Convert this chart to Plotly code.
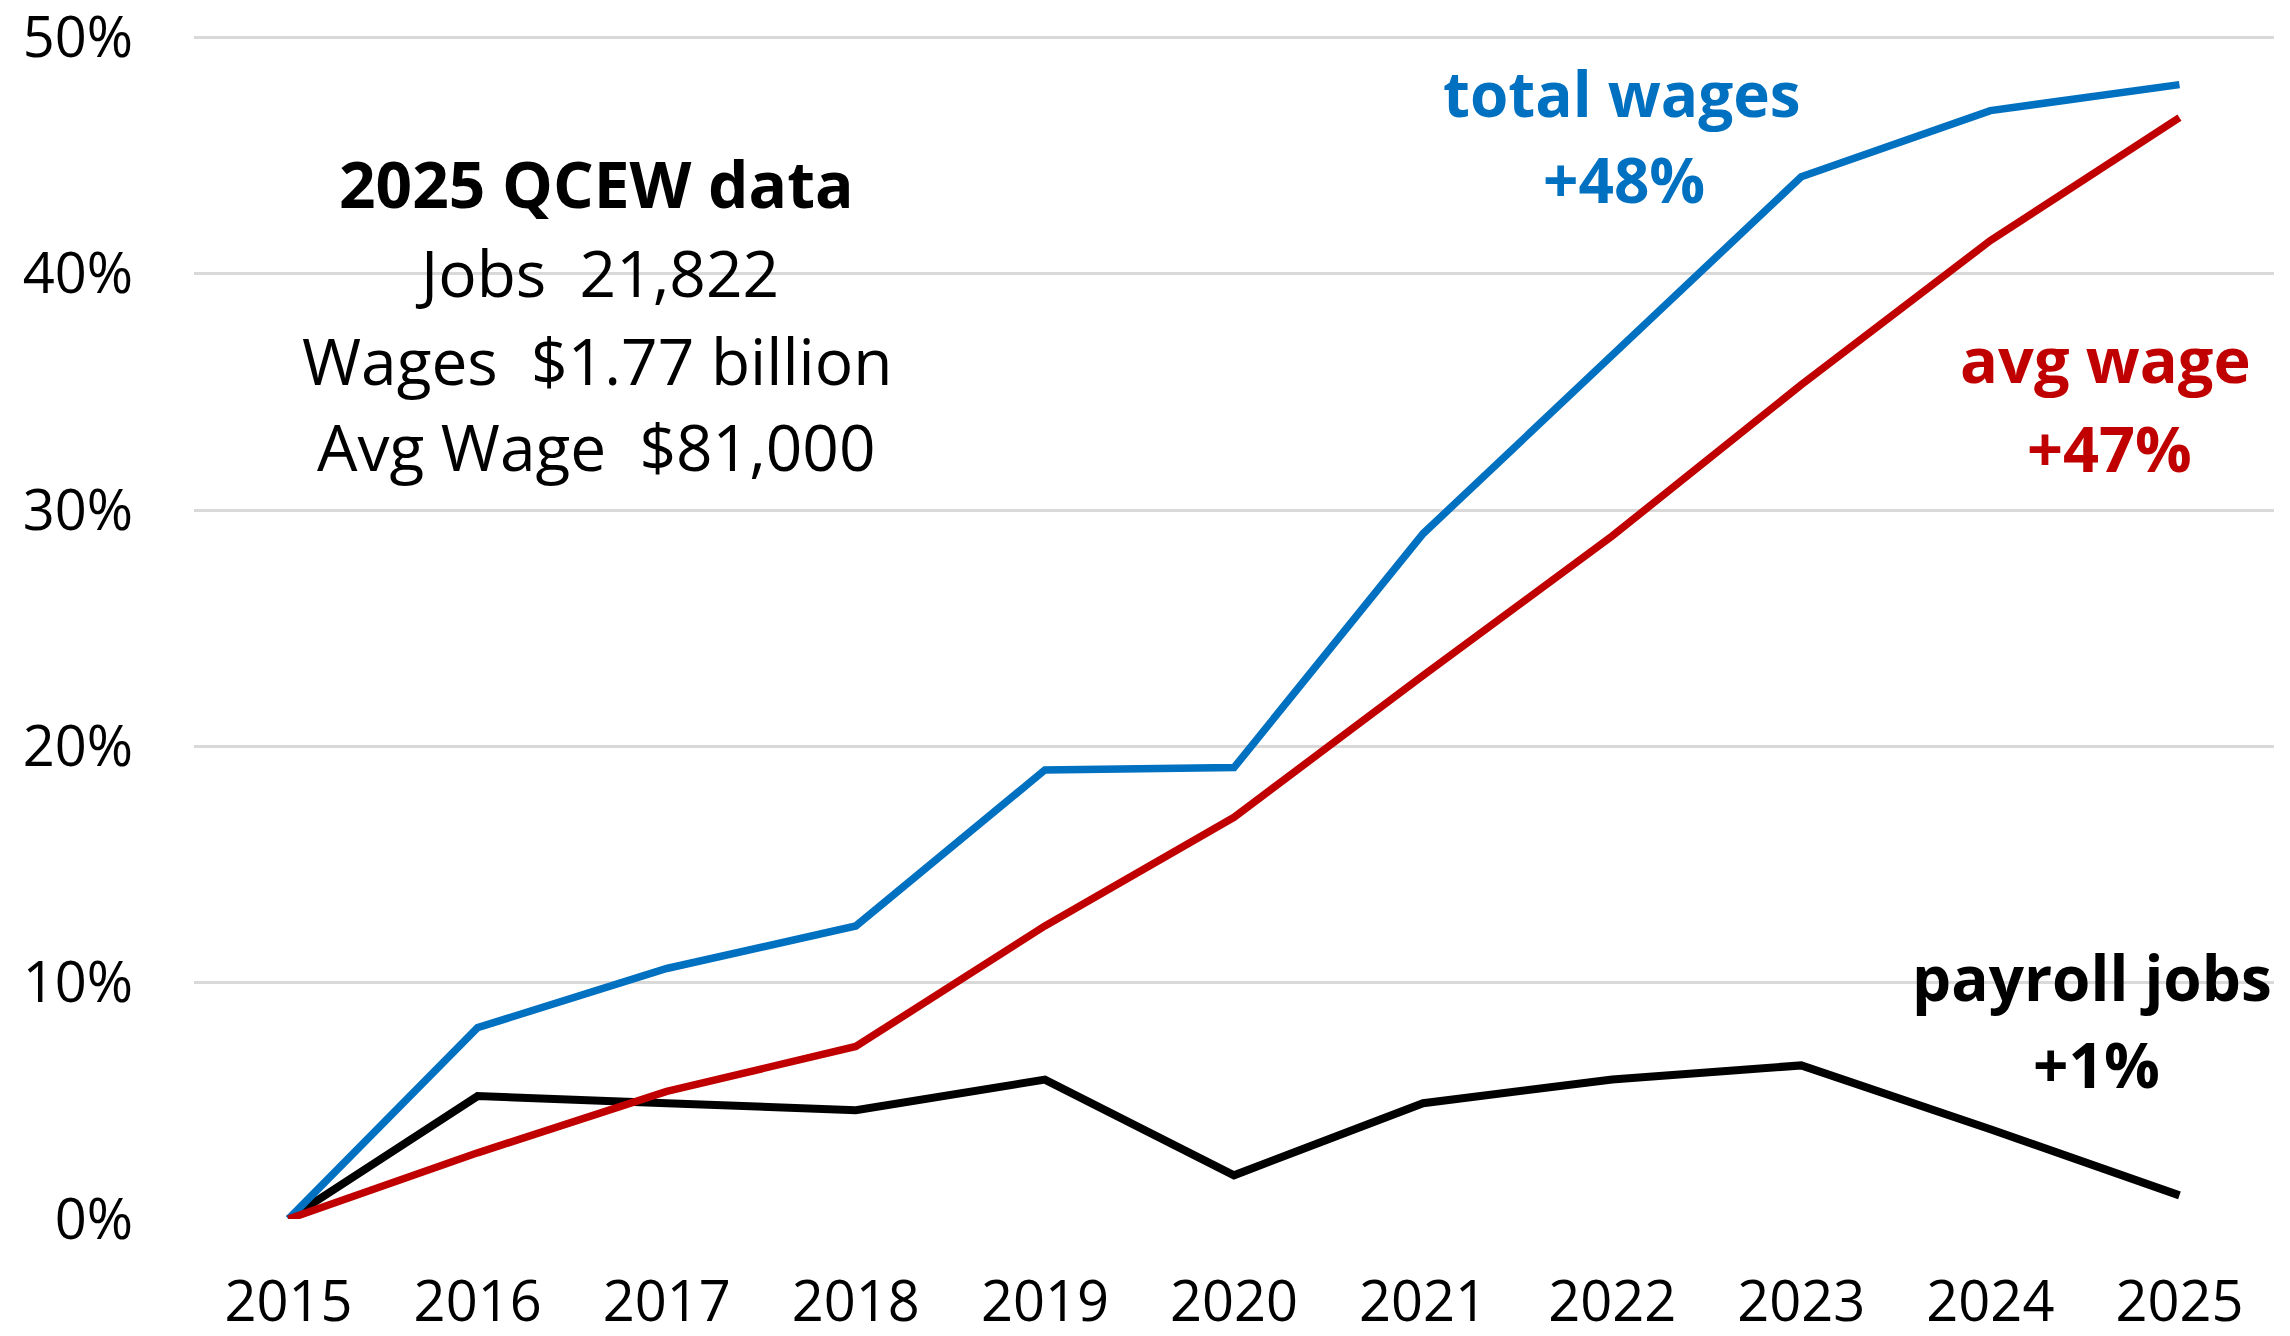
import plotly.graph_objects as go

years = [2015, 2016, 2017, 2018, 2019, 2020, 2021, 2022, 2023, 2024, 2025]
total_wages = [0, 8.1, 10.6, 12.4, 19.0, 19.1, 29.0, 36.6, 44.1, 46.9, 48.0]
avg_wage = [0, 2.8, 5.4, 7.3, 12.4, 17.0, 23.0, 28.9, 35.3, 41.4, 46.6]
payroll_jobs = [0, 5.2, 4.9, 4.6, 5.9, 1.85, 4.9, 5.9, 6.5, 3.8, 1.0]
y_ticks = [0, 10, 20, 30, 40, 50]
y_tick_labels = ["0%", "10%", "20%", "30%", "40%", "50%"]

BLUE = "#0070C0"
RED = "#C00000"
BLACK = "#000000"
FONT = "Open Sans"

fig = go.Figure()
fig.add_trace(go.Scatter(x=years, y=payroll_jobs, mode="lines",
                         line=dict(color=BLACK, width=8), name="payroll jobs", cliponaxis=False))
fig.add_trace(go.Scatter(x=years, y=total_wages, mode="lines",
                         line=dict(color=BLUE, width=7.5), name="total wages", cliponaxis=False))
fig.add_trace(go.Scatter(x=years, y=avg_wage, mode="lines",
                         line=dict(color=RED, width=7.5), name="avg wage", cliponaxis=False))

annotations = [
    dict(x=2016.63, y=43.80, text="<b>2025 QCEW data</b>", size=64, color=BLACK),
    dict(x=2016.63, y=40.03, text="Jobs\u00a0\u00a021,822", size=64, color=BLACK),
    dict(x=2016.63, y=36.31, text="Wages\u00a0\u00a0$1.77 billion", size=64, color=BLACK),
    dict(x=2016.63, y=32.68, text="Avg Wage\u00a0\u00a0$81,000", size=64, color=BLACK),
    dict(x=2022.05, y=47.64, text="<b>total wages</b>", size=62, color=BLUE),
    dict(x=2022.06, y=44.01, text="<b>+48%</b>", size=62, color=BLUE),
    dict(x=2024.61, y=36.40, text="<b>avg wage</b>", size=63, color=RED),
    dict(x=2024.63, y=32.64, text="<b>+47%</b>", size=63, color=RED),
    dict(x=2024.54, y=10.24, text="<b>payroll jobs</b>", size=62, color=BLACK),
    dict(x=2024.56, y=6.56, text="<b>+1%</b>", size=62, color=BLACK),
]
for a in annotations:
    fig.add_annotation(x=a["x"], y=a["y"], xref="x", yref="y", text=a["text"],
                       showarrow=False, xanchor="center", yanchor="middle",
                       font=dict(family=FONT, size=a["size"], color=a["color"]))

# The page body has an 8px default margin, so the figure is sized to fit the window.
fig.update_layout(
    width=2282, height=1328,
    margin=dict(l=186, r=16, t=26.5, b=116.5, autoexpand=False),
    paper_bgcolor="white", plot_bgcolor="white",
    showlegend=False,
    font=dict(family=FONT, color=BLACK, size=56),
)
fig.update_xaxes(
    range=[2014.5, 2025.5], tickmode="array", tickvals=years, ticktext=[str(y) for y in years],
    showgrid=False, zeroline=False, showline=False, ticks="", automargin=False,
    tickfont=dict(family=FONT, size=56, color=BLACK), ticklabelstandoff=45,
    ticklabeloverflow="allow",
)
fig.update_yaxes(
    range=[0, 50.1], tickmode="array", tickvals=y_ticks, ticktext=y_tick_labels,
    showgrid=True, gridcolor="#D9D9D9", gridwidth=3,
    zeroline=False, showline=False, ticks="", automargin=False,
    tickfont=dict(family=FONT, size=56, color=BLACK), ticklabelstandoff=60,
    ticklabeloverflow="allow",
)

fig.write_html("out.html")
